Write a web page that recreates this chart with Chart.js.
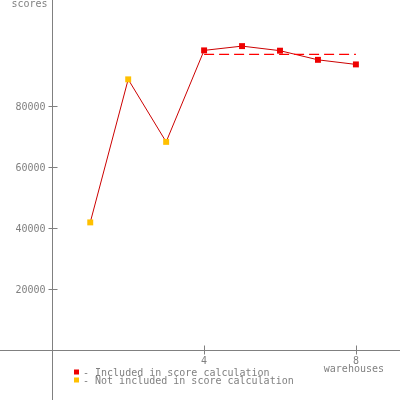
<!DOCTYPE html>
<html>
<head>
<meta charset="utf-8">
<script src="https://cdn.jsdelivr.net/npm/chart.js@4/dist/chart.umd.min.js"></script>
<style>
  html, body { margin: 0; padding: 0; background: #fff; }
  canvas { display: block; }
</style>
</head>
<body>
<canvas id="chart" width="400" height="400"></canvas>
<script>
// data
var warehouses = [1, 2, 3, 4, 5, 6, 7, 8];
var scores = [42000, 88900, 68400, 98400, 99800, 98300, 95300, 93800];
var included = [false, false, false, true, true, true, true, true];
var scoreRange = [4, 8];
var scoreValue = 97100;
var yTicks = [20000, 40000, 60000, 80000];
var xTicks = [4, 8];
var yTitle = 'scores';
var xTitle = 'warehouses';
var legendTexts = ['- Included in score calculation', '- Not included in score calculation'];

var RED = '#ee0000';
var YELLOW = '#ffc000';
var LINE = '#cc0000';
var GREY = '#808080';
var FONT = '10px "DejaVu Sans Mono", monospace';

var points = warehouses.map(function (w, i) { return { x: w, y: scores[i] }; });
var pointColors = included.map(function (inc) { return inc ? RED : YELLOW; });

// axes, ticks and legend drawn on the library's scales
var axesPlugin = {
    id: 'oldAxes',
    beforeDatasetsDraw: function (chart) {
        var ctx = chart.ctx;
        var xs = chart.scales.x, ys = chart.scales.y;
        var x0 = Math.round(xs.getPixelForValue(0)) + 0.5;
        var y0 = Math.round(ys.getPixelForValue(0)) + 0.5;
        ctx.save();
        ctx.strokeStyle = GREY;
        ctx.lineWidth = 1;
        ctx.beginPath();
        ctx.moveTo(0, y0); ctx.lineTo(chart.width, y0);
        ctx.moveTo(x0, 0); ctx.lineTo(x0, chart.height);
        yTicks.forEach(function (v) {
            var y = Math.round(ys.getPixelForValue(v)) + 0.5;
            ctx.moveTo(x0 - 4, y); ctx.lineTo(x0 + 5, y);
        });
        xTicks.forEach(function (v) {
            var x = Math.round(xs.getPixelForValue(v)) + 0.5;
            ctx.moveTo(x, y0 - 5); ctx.lineTo(x, y0 + 4);
        });
        ctx.stroke();

        ctx.fillStyle = GREY;
        ctx.font = FONT;
        ctx.textBaseline = 'alphabetic';
        ctx.textAlign = 'right';
        yTicks.forEach(function (v) {
            ctx.fillText(String(v), x0 - 7, ys.getPixelForValue(v) + 4);
        });
        ctx.fillText(yTitle, x0 - 5, 7);
        ctx.textAlign = 'center';
        xTicks.forEach(function (v) {
            ctx.fillText(String(v), xs.getPixelForValue(v), y0 + 13);
        });
        ctx.fillText(xTitle, xs.getPixelForValue(8) - 2, y0 + 21);

        // legend
        ctx.textAlign = 'left';
        var colors = [RED, YELLOW];
        legendTexts.forEach(function (t, i) {
            var y = y0 + 25 + i * 8;
            ctx.fillStyle = colors[i];
            ctx.fillRect(74, y - 6, 5, 5);
            ctx.fillStyle = GREY;
            ctx.fillText(t, 83, y);
        });
        ctx.restore();
    }
};

var ctx = document.getElementById('chart').getContext('2d');
var chart = new Chart(ctx, {
    type: 'line',
    data: {
        datasets: [
            {
                data: [{ x: scoreRange[0], y: scoreValue }, { x: scoreRange[1], y: scoreValue }],
                borderColor: '#ff0000',
                borderWidth: 1.3,
                borderDash: [10, 5],
                pointRadius: 0,
                fill: false
            },
            {
                data: points,
                borderColor: LINE,
                borderWidth: 1,
                pointStyle: 'rect',
                pointRadius: 4.2,
                pointBorderWidth: 0,
                pointBackgroundColor: pointColors,
                fill: false,
                tension: 0
            }
        ]
    },
    options: {
        responsive: false,
        animation: false,
        layout: { padding: 0, autoPadding: false },
        plugins: { legend: { display: false }, tooltip: { enabled: false } },
        scales: {
            x: { type: 'linear', display: false, min: -1.378, max: 9.162 },
            y: { type: 'linear', display: false, min: -16230, max: 114918 }
        }
    },
    plugins: [axesPlugin]
});
</script>
</body>
</html>
